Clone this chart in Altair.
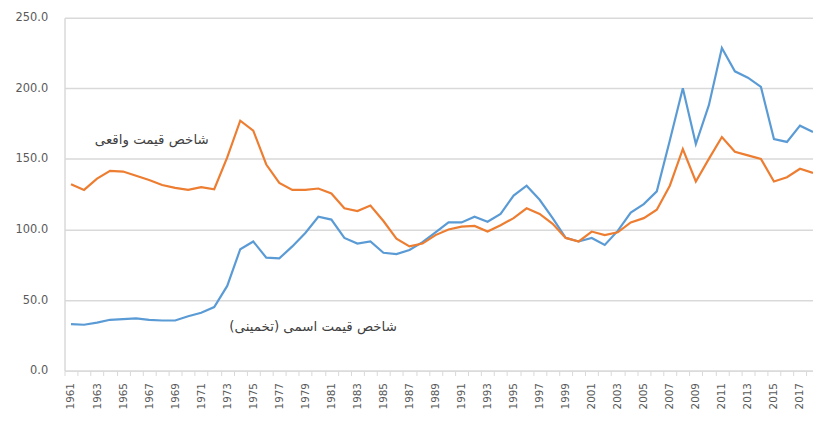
import altair as alt
import pandas as pd

# ---- data ----
years = list(range(1961, 2019))

nominal_index = [
    33, 32.5, 34, 36, 36.5, 37, 36, 35.5, 35.5, 38.5,
    41, 45, 60, 86, 91.5, 80, 79.5, 88, 97.5, 109,
    107, 94, 90, 91.5, 83.5, 82.5, 85.5, 91, 98, 105,
    105, 109, 105.5, 111, 124, 131, 121, 108, 94, 91.5,
    94, 89, 99, 112, 118, 127, 163, 200, 160.5, 188,
    228.5, 212, 207.5, 201, 164, 162, 173.5, 169,
]

real_index = [
    132, 128, 136, 141.5, 141, 138, 135, 131.5, 129.5, 128,
    130, 128.5, 151, 177, 170, 146, 133, 128, 128, 129,
    125.5, 115, 113, 117, 106, 93.5, 88, 90, 96, 100,
    102, 102.5, 98.5, 103, 108, 115, 111, 104, 94, 91.5,
    98.5, 96, 98, 105, 108, 114, 131, 157, 134, 150,
    165.5, 155, 152.5, 150, 134, 137, 143, 140,
]

series_names = ["شاخص قیمت اسمی (تخمینی)", "شاخص قیمت واقعی"]
series_colors = ["#5B9BD5", "#ED7D31"]

y_ticks = [0, 50, 100, 150, 200, 250]

# in-chart labels (text, year position, value position)
label_texts = ["شاخص قیمت واقعی", "شاخص قیمت اسمی (تخمینی)"]
label_years = [1967.2, 1979.6]
label_values = [163, 31]

# ---- build tables ----
df = pd.DataFrame({
    "year": years * 2,
    "value": nominal_index + real_index,
    "series": [series_names[0]] * len(years) + [series_names[1]] * len(years),
})
labels_df = pd.DataFrame({"text": label_texts, "year": label_years, "value": label_values})

boundaries = [y - 0.5 for y in years]

W, H = 755, 356
half_year_px = W / (2018.0 - 1960.5) / 2

grey = "#d9d9d9"
label_grey = "#595959"

x_scale = alt.Scale(domain=[1960.5, 2018.0], nice=False, zero=False)
y_scale = alt.Scale(domain=[0, 250], nice=False)

x_axis = alt.Axis(
    values=boundaries,
    labelExpr="(datum.value + 0.5) % 2 == 1 ? toString(datum.value + 0.5) : ''",
    labelOffset=half_year_px,
    labelAngle=-90,
    labelFlush=False,
    labelOverlap=False,
    labelBound=False,
    labelFontSize=10.5,
    labelColor=label_grey,
    labelFont="DejaVu Sans",
    labelPadding=7,
    tickSize=5,
    tickColor=grey,
    tickWidth=1,
    domainColor=grey,
    domainWidth=1.5,
    grid=False,
    title=None,
)

y_axis = alt.Axis(
    values=y_ticks,
    format=".1f",
    labelFontSize=11.5,
    labelColor=label_grey,
    labelFont="DejaVu Sans",
    labelPadding=17,
    ticks=False,
    domainColor=grey,
    domainWidth=1.5,
    gridColor=grey,
    gridWidth=1.5,
    title=None,
)

lines = alt.Chart(df).mark_line(strokeWidth=2.2).encode(
    x=alt.X("year:Q", scale=x_scale, axis=x_axis),
    y=alt.Y("value:Q", scale=y_scale, axis=y_axis),
    color=alt.Color(
        "series:N",
        scale=alt.Scale(domain=series_names, range=series_colors),
        legend=None,
    ),
    detail="series:N",
)

texts = alt.Chart(labels_df).mark_text(
    font="DejaVu Sans", fontSize=13.5, color="#404040", align="center", baseline="middle"
).encode(
    x=alt.X("year:Q", scale=x_scale, axis=x_axis),
    y=alt.Y("value:Q", scale=y_scale, axis=y_axis),
    text="text:N",
)

chart = alt.layer(lines, texts).properties(
    width=W,
    height=H,
    autosize=alt.AutoSizeParams(type="none"),
    padding={"left": 57, "top": 8, "right": 0, "bottom": 45},
    background="white",
).configure_view(stroke=None).configure_axis(labelOverlap=False)

chart.save("out.html", embed_options={"renderer": "svg", "actions": False})
